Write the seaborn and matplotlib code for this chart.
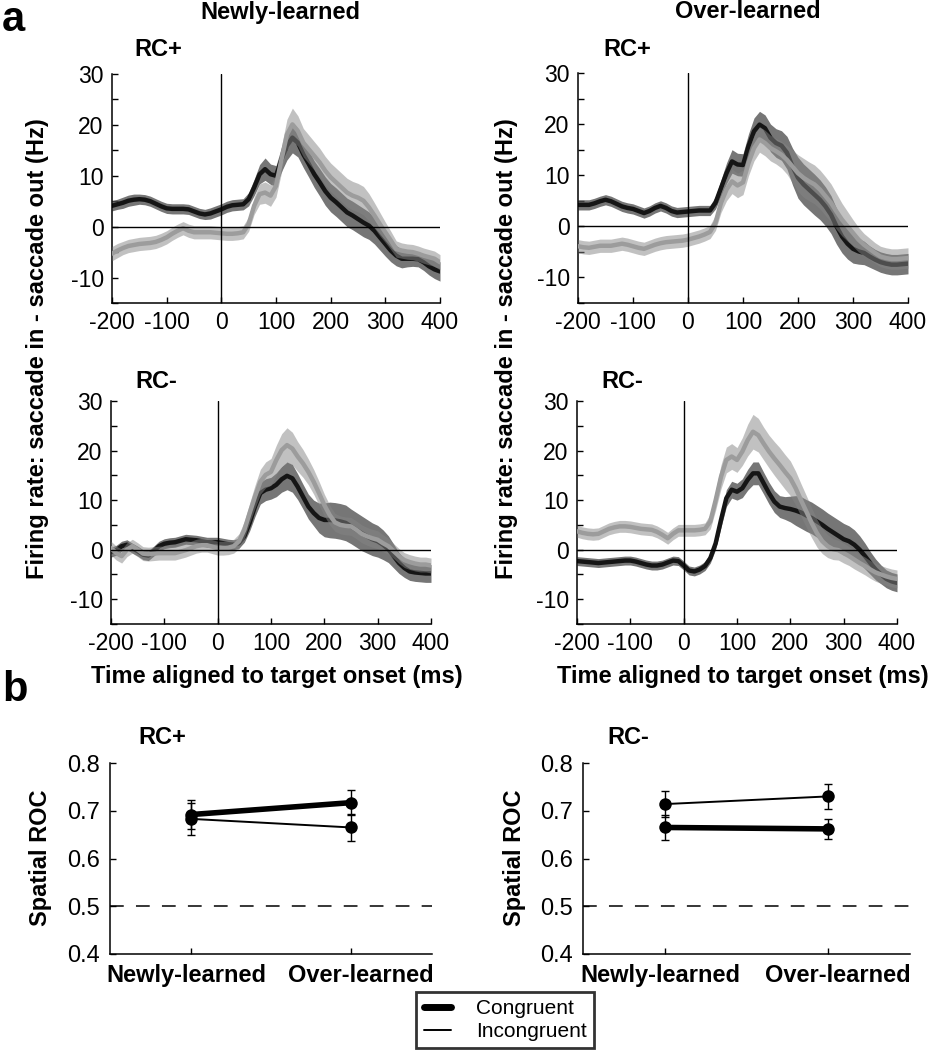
import numpy as np
import pandas as pd
import seaborn as sns
import matplotlib.pyplot as plt
import matplotlib.transforms as mtransforms
from matplotlib.ticker import MultipleLocator
from matplotlib.lines import Line2D

# time axis of the firing-rate traces (ms from target onset)
time_ms = list(range(-200, 401, 10))

# ---- panel a: newly-learned, RC+ ----
nl_rcp_dark = [4.1, 4.4, 4.7, 5.1, 5.3, 5.4, 5.3, 5.0, 4.5, 4.0,
               3.6, 3.5, 3.5, 3.5, 3.4, 3.0, 2.6, 2.4, 2.6, 3.0,
               3.4, 3.9, 4.2, 4.3, 4.4, 5.4, 7.7, 10.3, 11.3, 10.3,
               10.0, 13.2, 15.9, 17.5, 16.5, 14.2, 12.3, 10.3, 8.7, 7.0,
               5.7, 4.8, 3.8, 2.8, 2.2, 1.5, 0.8, 0.2, -0.8, -2.1,
               -3.4, -4.7, -5.7, -6.3, -6.3, -6.3, -6.4, -7.0, -7.8, -8.4,
               -8.8]
nl_rcp_dark_se = [1.0, 1.0, 1.1, 1.1, 1.1, 1.0, 1.0, 1.0, 1.0, 1.0,
                  1.0, 1.0, 1.0, 1.0, 1.0, 1.0, 1.0, 1.0, 1.1, 1.1,
                  1.1, 1.1, 1.1, 1.1, 1.1, 1.3, 1.6, 1.9, 2.2, 2.0,
                  2.0, 2.4, 2.8, 3.0, 2.8, 2.6, 2.6, 2.6, 2.7, 2.8,
                  2.8, 2.8, 2.8, 2.8, 2.8, 2.8, 2.8, 2.7, 2.6, 2.5,
                  2.4, 2.2, 2.0, 1.8, 1.6, 1.5, 1.5, 1.6, 1.7, 1.8,
                  1.9]
nl_rcp_light = [-5.3, -4.7, -4.2, -3.8, -3.6, -3.4, -3.3, -3.2, -3.0, -2.6,
                -2.1, -1.4, -0.8, -0.3, -0.8, -1.1, -1.1, -1.1, -1.1, -1.2,
                -1.3, -1.4, -1.4, -1.3, -1.1, 0.5, 4.1, 6.4, 6.7, 6.1,
                8.0, 13.2, 18.1, 20.1, 18.8, 16.5, 15.2, 13.9, 12.6, 11.0,
                9.7, 8.7, 7.7, 6.7, 6.1, 5.7, 5.1, 3.8, 2.2, 0.5,
                -1.1, -2.7, -4.4, -4.7, -4.9, -5.0, -5.3, -5.7, -6.0, -6.3,
                -7.0]
nl_rcp_light_se = [1.4, 1.4, 1.3, 1.3, 1.3, 1.3, 1.3, 1.3, 1.3, 1.3,
                   1.3, 1.3, 1.3, 1.3, 1.3, 1.3, 1.3, 1.3, 1.3, 1.3,
                   1.3, 1.3, 1.3, 1.3, 1.3, 1.4, 1.7, 2.0, 2.1, 2.1,
                   2.2, 2.6, 3.0, 3.2, 3.0, 2.8, 2.8, 2.8, 2.8, 2.8,
                   2.8, 2.8, 2.8, 2.8, 2.8, 2.8, 2.8, 2.7, 2.5, 2.3,
                   2.0, 1.8, 1.6, 1.5, 1.5, 1.5, 1.5, 1.5, 1.5, 1.5,
                   1.5]

# ---- panel a: over-learned, RC+ ----
ol_rcp_dark = [4.2, 4.2, 4.2, 4.5, 4.9, 5.2, 4.9, 4.4, 3.9, 3.6,
               3.4, 3.0, 2.6, 3.0, 3.6, 4.0, 3.6, 3.0, 2.7, 2.8,
               2.9, 3.0, 3.1, 3.1, 3.1, 4.6, 7.5, 10.4, 12.7, 12.1,
               12.0, 15.7, 18.6, 19.9, 19.2, 17.3, 16.3, 15.8, 14.4, 11.7,
               9.5, 8.2, 7.2, 6.2, 5.2, 3.9, 2.3, 0.0, -2.0, -3.4,
               -4.4, -4.9, -5.2, -5.9, -6.5, -7.0, -7.3, -7.5, -7.5, -7.4,
               -7.3]
ol_rcp_dark_se = [1.0, 1.0, 1.0, 1.0, 1.0, 1.0, 1.0, 1.0, 1.0, 1.0,
                  1.0, 1.0, 1.0, 1.0, 1.0, 1.0, 1.0, 1.0, 1.0, 1.0,
                  1.0, 1.0, 1.0, 1.0, 1.0, 1.2, 1.6, 2.0, 2.3, 2.2,
                  2.2, 2.4, 2.6, 2.6, 2.6, 2.7, 2.8, 2.9, 3.2, 3.6,
                  4.0, 4.0, 4.0, 4.0, 3.9, 3.8, 3.7, 3.5, 3.2, 3.0,
                  2.8, 2.5, 2.3, 2.1, 2.0, 2.0, 2.0, 2.0, 2.0, 2.0,
                  2.0]
ol_rcp_light = [-3.9, -4.1, -4.2, -4.0, -3.8, -3.8, -3.8, -3.6, -3.4, -3.6,
                -3.9, -4.2, -4.4, -4.0, -3.6, -3.3, -3.1, -3.0, -2.9, -2.8,
                -2.6, -2.3, -2.0, -1.6, -1.1, 0.7, 4.6, 7.2, 8.8, 8.0,
                8.6, 12.4, 15.3, 17.0, 16.3, 15.3, 14.7, 14.0, 13.0, 11.7,
                10.4, 9.5, 8.8, 8.2, 7.2, 5.9, 4.6, 2.9, 1.3, 0.0,
                -1.3, -2.6, -3.6, -4.4, -5.2, -5.9, -6.2, -6.4, -6.4, -6.3,
                -6.2]
ol_rcp_light_se = [1.3, 1.3, 1.3, 1.3, 1.3, 1.3, 1.3, 1.3, 1.3, 1.3,
                   1.3, 1.3, 1.3, 1.3, 1.3, 1.3, 1.3, 1.3, 1.3, 1.3,
                   1.3, 1.3, 1.3, 1.3, 1.3, 1.5, 1.9, 2.2, 2.4, 2.4,
                   2.4, 2.5, 2.5, 2.5, 2.5, 2.5, 2.5, 2.6, 2.8, 3.2,
                   3.6, 3.8, 3.8, 3.8, 3.8, 3.8, 3.7, 3.5, 3.2, 2.9,
                   2.6, 2.4, 2.2, 2.1, 2.0, 2.0, 2.0, 2.0, 2.0, 2.0,
                   2.0]

# ---- panel a: newly-learned, RC- ----
nl_rcm_dark = [-0.5, -0.1, 0.7, 1.0, 0.3, -0.3, -1.0, -1.2, -0.3, 0.7,
               1.2, 1.4, 1.5, 1.8, 2.1, 2.0, 1.9, 1.7, 1.5, 1.5,
               1.5, 1.3, 1.1, 1.0, 1.3, 2.7, 5.4, 8.7, 11.4, 12.1,
               12.4, 13.1, 14.2, 14.9, 14.4, 12.7, 10.7, 8.7, 7.4, 6.4,
               6.0, 6.0, 5.9, 5.7, 5.4, 4.7, 4.0, 3.3, 2.7, 2.1,
               1.7, 1.0, 0.1, -1.3, -2.7, -3.7, -4.4, -4.6, -4.7, -4.8,
               -4.8]
nl_rcm_dark_se = [1.0, 1.0, 1.0, 1.0, 1.0, 1.0, 1.0, 1.0, 1.0, 1.0,
                  1.0, 1.0, 1.0, 1.0, 1.0, 1.0, 1.0, 1.0, 1.0, 1.0,
                  1.0, 1.0, 1.0, 1.0, 1.0, 1.2, 1.6, 2.0, 2.2, 2.2,
                  2.2, 2.4, 2.6, 2.8, 2.8, 2.6, 2.5, 2.5, 2.6, 3.0,
                  3.4, 3.6, 3.6, 3.6, 3.6, 3.5, 3.5, 3.5, 3.4, 3.3,
                  3.2, 3.0, 2.7, 2.4, 2.1, 1.9, 1.8, 1.8, 1.8, 1.8,
                  1.8]
nl_rcm_light = [0.3, -0.7, -1.3, 0.0, 0.7, 0.0, -0.8, -0.9, -0.8, -0.7,
                -0.7, -0.7, -0.7, -0.4, -0.1, 0.3, 0.7, 0.9, 0.9, 0.6,
                0.3, 0.3, 0.4, 0.7, 1.7, 4.0, 7.4, 10.7, 13.7, 15.1,
                15.7, 18.1, 20.1, 21.1, 20.4, 18.8, 17.4, 15.7, 13.7, 11.4,
                9.0, 7.0, 5.5, 5.0, 4.8, 4.7, 4.0, 3.2, 2.7, 2.3,
                2.0, 1.3, 0.7, -0.3, -1.3, -2.1, -2.5, -2.8, -3.0, -3.0,
                -3.2]
nl_rcm_light_se = [1.4, 1.4, 1.4, 1.4, 1.4, 1.4, 1.4, 1.4, 1.4, 1.4,
                   1.4, 1.4, 1.4, 1.4, 1.4, 1.4, 1.4, 1.4, 1.4, 1.4,
                   1.4, 1.4, 1.4, 1.4, 1.5, 1.7, 2.0, 2.3, 2.5, 2.6,
                   2.7, 3.0, 3.3, 3.5, 3.3, 3.0, 2.8, 2.6, 2.5, 2.4,
                   2.2, 2.0, 1.8, 1.8, 1.8, 1.8, 1.8, 1.8, 1.8, 1.8,
                   1.8, 1.7, 1.6, 1.5, 1.5, 1.5, 1.5, 1.5, 1.5, 1.5,
                   1.5]

# ---- panel a: over-learned, RC- ----
ol_rcm_dark = [-2.3, -2.4, -2.5, -2.6, -2.7, -2.6, -2.5, -2.4, -2.3, -2.2,
               -2.2, -2.4, -2.7, -3.0, -3.2, -3.2, -3.0, -2.6, -2.2, -2.3,
               -3.2, -4.2, -4.4, -4.0, -3.3, -1.7, 1.3, 6.0, 10.4, 12.1,
               11.7, 12.4, 14.1, 15.4, 15.4, 13.4, 11.4, 9.7, 8.7, 8.4,
               8.2, 7.9, 7.5, 6.9, 6.4, 5.7, 5.0, 4.2, 3.5, 2.8,
               2.1, 1.7, 1.0, 0.0, -1.3, -2.7, -4.0, -5.0, -5.9, -6.4,
               -6.7]
ol_rcm_dark_se = [0.9, 0.9, 0.9, 0.9, 0.9, 0.9, 0.9, 0.9, 0.9, 0.9,
                  0.9, 0.9, 0.9, 0.9, 0.9, 0.9, 0.9, 0.9, 0.9, 0.9,
                  0.9, 0.9, 0.9, 0.9, 0.9, 1.0, 1.2, 1.5, 1.7, 1.7,
                  1.7, 1.9, 2.1, 2.3, 2.3, 2.2, 2.2, 2.2, 2.2, 2.3,
                  2.6, 3.0, 3.2, 3.2, 3.2, 3.2, 3.2, 3.2, 3.2, 3.2,
                  3.2, 3.1, 3.0, 2.8, 2.6, 2.3, 2.1, 1.9, 1.8, 1.8,
                  1.8]
ol_rcm_light = [3.7, 3.4, 3.2, 3.1, 3.2, 3.7, 4.2, 4.5, 4.7, 4.7,
                4.6, 4.4, 4.2, 4.1, 4.0, 3.6, 3.0, 2.3, 3.2, 3.9,
                3.9, 3.9, 3.9, 4.0, 4.2, 5.7, 10.0, 14.7, 18.1, 18.8,
                18.1, 19.8, 22.1, 23.8, 23.1, 21.4, 19.8, 18.4, 17.1, 15.7,
                14.4, 12.4, 10.0, 7.7, 5.4, 3.3, 1.7, 0.7, 0.1, -0.1,
                -0.7, -1.3, -2.0, -2.7, -3.3, -4.0, -4.6, -5.0, -5.4, -5.7,
                -5.9]
ol_rcm_light_se = [1.2, 1.2, 1.2, 1.2, 1.2, 1.2, 1.2, 1.2, 1.2, 1.2,
                   1.2, 1.2, 1.2, 1.2, 1.2, 1.2, 1.2, 1.2, 1.2, 1.2,
                   1.2, 1.2, 1.2, 1.2, 1.2, 1.5, 2.0, 2.4, 2.6, 2.6,
                   2.5, 2.8, 3.2, 3.5, 3.4, 3.3, 3.3, 3.4, 3.5, 3.5,
                   3.5, 3.4, 3.3, 3.2, 3.0, 2.8, 2.5, 2.3, 2.1, 2.0,
                   2.0, 1.9, 1.9, 1.8, 1.8, 1.8, 1.8, 1.8, 1.8, 1.8,
                   1.8]

# ---- panel b: spatial ROC ----
learning = ['Newly-learned', 'Over-learned']
rcp_congruent = [0.692, 0.717]
rcp_congruent_err = [0.030, 0.026]
rcp_incongruent = [0.683, 0.665]
rcp_incongruent_err = [0.034, 0.029]
rcm_congruent = [0.665, 0.662]
rcm_congruent_err = [0.026, 0.021]
rcm_incongruent = [0.714, 0.730]
rcm_incongruent_err = [0.028, 0.027]

sns.set_style('ticks')
plt.rcParams['font.family'] = ['Liberation Sans', 'DejaVu Sans']
plt.rcParams.update({
    'axes.linewidth': 1.1,
    'axes.unicode_minus': False,
    'text.color': 'black',
    'axes.labelcolor': 'black',
    'axes.edgecolor': 'black',
    'xtick.color': 'black',
    'ytick.color': 'black',
})

W, H = 948, 1050
fig = plt.figure(figsize=(W / 100, H / 100), dpi=100)


def add_ax(x0, x1, y0, y1):
    # pixel box -> figure fraction
    return fig.add_axes([x0 / W, 1 - y1 / H, (x1 - x0) / W, (y1 - y0) / H])


def draw_trace(ax, dark, dark_se, light, light_se):
    df = pd.DataFrame({'t': time_ms, 'dark': dark, 'light': light,
                       'dse': dark_se, 'lse': light_se})
    ax.fill_between(df['t'], df['dark'] - df['dse'], df['dark'] + df['dse'],
                    color='#4f4f4f', alpha=0.78, lw=0, zorder=1)
    sns.lineplot(data=df, x='t', y='dark', ax=ax, color='#151515', lw=3.2, zorder=2)
    ax.fill_between(df['t'], df['light'] - df['lse'], df['light'] + df['lse'],
                    color='#858585', alpha=0.5, lw=0, zorder=3)
    sns.lineplot(data=df, x='t', y='light', ax=ax, color='#9c9c9c', lw=3.2, zorder=4)
    ax.axvline(0, color='k', lw=1, zorder=5)
    ax.axhline(0, color='k', lw=1, zorder=5)
    ax.set_xlim(-200, 400)
    ax.set_ylim(-15, 30)
    ax.xaxis.set_major_locator(MultipleLocator(100))
    ax.yaxis.set_major_locator(MultipleLocator(10))
    ax.yaxis.set_minor_locator(MultipleLocator(5))
    ax.tick_params(which='both', direction='in', length=4, width=1,
                   labelsize=16.5, pad=6)
    ax.set_xlabel('')
    ax.set_ylabel('')
    sns.despine(ax=ax)


ax_tl = add_ax(112, 440, 74, 303)
ax_tr = add_ax(578, 908, 73, 303)
ax_bl = add_ax(111, 431, 401, 624)
ax_br = add_ax(577, 897, 401, 624)
draw_trace(ax_tl, nl_rcp_dark, nl_rcp_dark_se, nl_rcp_light, nl_rcp_light_se)
draw_trace(ax_tr, ol_rcp_dark, ol_rcp_dark_se, ol_rcp_light, ol_rcp_light_se)
draw_trace(ax_bl, nl_rcm_dark, nl_rcm_dark_se, nl_rcm_light, nl_rcm_light_se)
draw_trace(ax_br, ol_rcm_dark, ol_rcm_dark_se, ol_rcm_light, ol_rcm_light_se)


def draw_roc(ax, cong, cong_err, incong, incong_err):
    df = pd.DataFrame({'learning': learning * 2,
                       'roc': cong + incong,
                       'err': cong_err + incong_err,
                       'cond': ['Congruent'] * 2 + ['Incongruent'] * 2})
    sns.lineplot(data=df, x='learning', y='roc', hue='cond', size='cond',
                 sizes={'Congruent': 4.0, 'Incongruent': 1.4},
                 palette={'Congruent': 'k', 'Incongruent': 'k'},
                 marker='o', markersize=9, markeredgewidth=0, ax=ax,
                 legend=False, zorder=3)
    for cond, g in df.groupby('cond'):
        ax.errorbar(g['learning'], g['roc'], yerr=g['err'], fmt='none',
                    ecolor='k', elinewidth=1, capsize=3, capthick=1, zorder=2)
    ax.axhline(0.5, color='k', lw=1.1, dashes=(9, 8), zorder=1)
    ax.set_xlim(-0.506, 1.506)
    ax.set_ylim(0.4, 0.8)
    ax.yaxis.set_major_locator(MultipleLocator(0.1))
    ax.tick_params(direction='in', length=4, width=1, labelsize=17, pad=7)
    # category labels sit a little apart, as in the original
    shifts = [-5, 10]
    for lab, dx in zip(ax.get_xticklabels(), shifts):
        lab.set_fontweight('bold')
        lab.set_fontsize(17)
        lab.set_transform(lab.get_transform() +
                          mtransforms.ScaledTranslation(dx / 100, 0, fig.dpi_scale_trans))
    ax.set_xlabel('')
    ax.set_ylabel('')
    sns.despine(ax=ax)


ax_b1 = add_ax(110, 432, 763, 954)
ax_b2 = add_ax(583, 910, 763, 954)
draw_roc(ax_b1, rcp_congruent, rcp_congruent_err, rcp_incongruent, rcp_incongruent_err)
draw_roc(ax_b2, rcm_congruent, rcm_congruent_err, rcm_incongruent, rcm_incongruent_err)


# texts
def ftext(x, y, s, **kw):
    fig.text(x / W, 1 - y / H, s, **kw)


bold = dict(fontweight='bold', fontsize=17, ha='center', va='center')
ftext(2, 20, 'a', fontweight='bold', fontsize=30, ha='left', va='center')
ftext(2, 690, 'b', fontweight='bold', fontsize=30, ha='left', va='center')
ftext(280, 12, 'Newly-learned', **bold)
ftext(748, 12, 'Over-learned', **bold)
ftext(158, 49, 'RC+', **bold)
ftext(627, 49, 'RC+', **bold)
ftext(156, 381, 'RC-', **bold)
ftext(622, 381, 'RC-', **bold)
ftext(277, 676, 'Time aligned to target onset (ms)', **bold)
ftext(743, 676, 'Time aligned to target onset (ms)', **bold)
ftext(38, 349, 'Firing rate: saccade in - saccade out (Hz)', rotation=90, **bold)
ftext(506, 349, 'Firing rate: saccade in - saccade out (Hz)', rotation=90, **bold)
ftext(162, 737, 'RC+', **bold)
ftext(628, 737, 'RC-', **bold)
ftext(41, 858, 'Spatial ROC', rotation=90, **bold)
ftext(515, 858, 'Spatial ROC', rotation=90, **bold)

handles = [Line2D([], [], color='k', lw=5), Line2D([], [], color='k', lw=1.4)]
leg = fig.legend(handles, ['Congruent', 'Incongruent'], loc='center',
                 bbox_to_anchor=(505 / W, 1 - 1020 / H), fontsize=15,
                 frameon=True, fancybox=False, handlelength=1.3,
                 handletextpad=1.2, borderpad=0.35, labelspacing=0.2)
leg.get_frame().set_edgecolor('k')
leg.get_frame().set_linewidth(2)

fig.savefig('out.png', dpi=100)
